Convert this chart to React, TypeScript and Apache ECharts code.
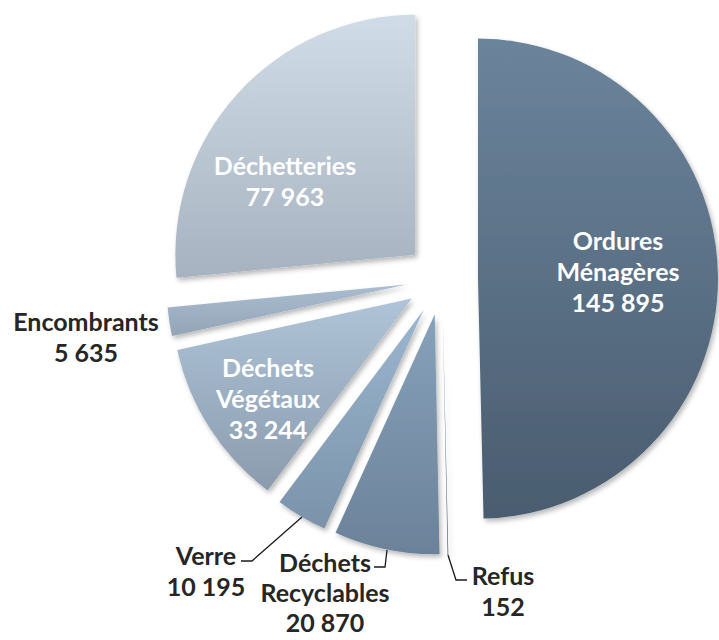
import React, { useEffect, useRef } from "react";
import * as echarts from "echarts";

// ---- data ----
const categories: string[] = [
  "Ordures\nMénagères",
  "Refus",
  "Déchets\nRecyclables",
  "Verre",
  "Déchets\nVégétaux",
  "Encombrants",
  "Déchetteries",
];
const values: number[] = [145895, 152, 20870, 10195, 33244, 5635, 77963];

// ---- styling (not data) ----
const topColors = ["#6b849c", "#5a7590", "#87a1bb", "#9bb6cf", "#afc4d8", "#aabdd0", "#d0dce7"];
const bottomColors = ["#4a5c6f", "#4d6680", "#6b8299", "#7a93aa", "#8a9bad", "#93a4b6", "#a6b2bf"];
const insideLabel = [true, false, false, false, true, false, true];
const labelCenters: number[][] = [
  [618, 271],
  [503, 590],
  [325, 592],
  [206, 570],
  [268, 398],
  [86, 336],
  [285, 180],
];
const labelLineHeights = [31, 31, 30, 31, 31, 31, 31];
const labelLines: (number[][] | null)[] = [
  null,
  [[448, 555], [456, 580], [467, 580]],
  [[387, 550], [385, 567], [374, 567]],
  [[302, 517], [252, 561], [241, 561]],
  null,
  null,
  null,
];

const fmt = (v: number) => String(v).replace(/\B(?=(\d{3})+(?!\d))/g, " ");

export default function App() {
  const ref = useRef<HTMLDivElement>(null);
  useEffect(() => {
    if (!ref.current) return;
    const chart = echarts.init(ref.current, undefined, { renderer: "svg" });
    const data = values.map((v, i) => ({
      name: categories[i],
      value: v,
      selected: true,
      itemStyle: {
        color: {
          type: "linear",
          x: 0,
          y: 0,
          x2: 0,
          y2: 1,
          colorStops: [
            { offset: 0, color: topColors[i] },
            { offset: 1, color: bottomColors[i] },
          ],
        },
      },
    }));

    const graphics: any[] = [];
    values.forEach((v, i) => {
      const c = labelCenters[i];
      graphics.push({
        type: "text",
        x: c[0],
        y: c[1],
        z: 100,
        silent: true,
        style: {
          text: `${categories[i]}\n${fmt(v)}`,
          fill: insideLabel[i] ? "#ffffff" : "#262626",
          font: "bold 25px Lato",
          lineHeight: labelLineHeights[i],
          align: "center",
          verticalAlign: "middle",
        },
      });
      const pts = labelLines[i];
      if (pts) {
        graphics.push({
          type: "polyline",
          z: 100,
          silent: true,
          shape: { points: pts },
          style: { stroke: "#1a1a1a", lineWidth: 1.3, fill: null },
        });
      }
    });

    chart.setOption({
      animation: false,
      backgroundColor: "#ffffff",
      graphic: graphics,
      series: [
        {
          type: "pie",
          center: [442, 279],
          radius: 240,
          startAngle: 90,
          clockwise: true,
          selectedMode: "multiple",
          selectedOffset: 36,
          data,
          label: { show: false },
          labelLine: { show: false },
          itemStyle: {
            borderWidth: 0,
            shadowBlur: 5,
            shadowOffsetX: 2,
            shadowOffsetY: 3,
            shadowColor: "rgba(0,0,0,0.28)",
          },
          select: { itemStyle: { borderWidth: 0 } },
          emphasis: { disabled: true },
        },
      ],
    });
    return () => chart.dispose();
  }, []);
  return (
    <div
      ref={ref}
      style={{ position: "fixed", left: 0, top: 0, width: 719, height: 640 }}
    />
  );
}
